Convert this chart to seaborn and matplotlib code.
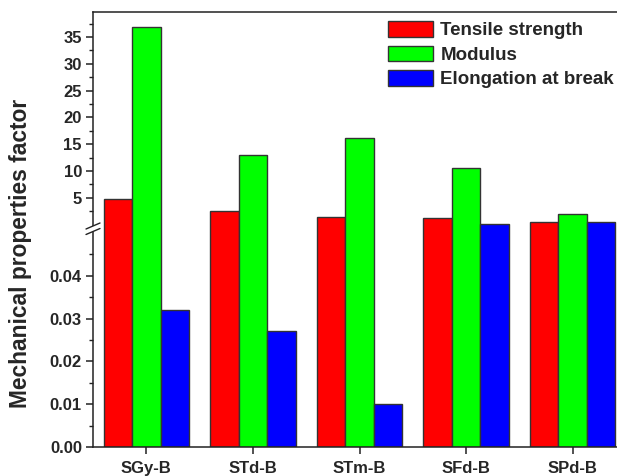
import numpy as np
import pandas as pd
import matplotlib
matplotlib.use("Agg")
import matplotlib.pyplot as plt
import seaborn as sns
from matplotlib.ticker import FixedLocator, FixedFormatter, NullFormatter
from matplotlib.patches import Patch

samples = ["SGy-B", "STd-B", "STm-B", "SFd-B", "SPd-B"]
properties = ["Tensile strength", "Modulus", "Elongation at break"]
tensile = [4.7, 2.55, 1.45, 1.15, 0.52]
modulus = [36.9, 13.0, 16.1, 10.6, 2.0]
elongation = [0.032, 0.027, 0.010, 0.1, 0.4]
colors = ["#FF0000", "#00FF00", "#0000FF"]

low_ticks = [0.00, 0.01, 0.02, 0.03, 0.04]
low_labels = ["0.00", "0.01", "0.02", "0.03", "0.04"]
high_ticks = [5, 10, 15, 20, 25, 30, 35]
high_labels = ["5", "10", "15", "20", "25", "30", "35"]
minor_ticks = [0.005, 0.015, 0.025, 0.035, 0.045,
               2.5, 7.5, 12.5, 17.5, 22.5, 27.5, 32.5, 37.5]

df = pd.DataFrame({
    "sample": samples * 3,
    "property": np.repeat(properties, len(samples)),
    "value": tensile + modulus + elongation,
})

sns.set_style("ticks")
plt.rcParams["font.family"] = ["Liberation Sans", "DejaVu Sans"]
plt.rcParams["font.weight"] = "bold"

# broken axis: lower 0..0.05, upper 0.05..~39.7
BREAK = 0.05
LOW_SLOPE = 4280.0
UP_OFF = 222.5
UP_SLOPE = 5.357


def fwd(v):
    v = np.asarray(v, dtype=float)
    return np.where(v <= BREAK, v * LOW_SLOPE, UP_OFF + v * UP_SLOPE)


def inv(y):
    y = np.asarray(y, dtype=float)
    lowtop = BREAK * LOW_SLOPE
    uptop = UP_OFF + BREAK * UP_SLOPE
    return np.where(y <= lowtop, y / LOW_SLOPE,
                    np.where(y < uptop, BREAK, (y - UP_OFF) / UP_SLOPE))


W, H = 617, 476
fig = plt.figure(figsize=(W / 100, H / 100), dpi=100)
ax = fig.add_axes([93 / W, (H - 447) / H, 533 / W, 435 / H])

sns.barplot(data=df, x="sample", y="value", hue="property",
            palette=colors, edgecolor="#333333", linewidth=1.0,
            width=0.8, saturation=1, ax=ax, legend=False)

ax.set_yscale("function", functions=(fwd, inv))
ax.set_ylim(0, (435 - UP_OFF) / UP_SLOPE)
ax.set_xlim(-0.5, 4.5)

ax.yaxis.set_major_locator(FixedLocator(low_ticks + high_ticks))
ax.yaxis.set_major_formatter(FixedFormatter(low_labels + high_labels))
ax.yaxis.set_minor_locator(FixedLocator(minor_ticks))
ax.yaxis.set_minor_formatter(NullFormatter())

ax.tick_params(axis="y", which="major", length=5, width=1.1, direction="out",
               labelsize=12, pad=3, color="#222222")
ax.tick_params(axis="y", which="minor", length=3, width=1.0, direction="out",
               color="#222222")
ax.tick_params(axis="x", which="major", length=5, width=1.1, direction="out",
               labelsize=12, pad=5, color="#222222")
for lab in ax.get_xticklabels() + ax.get_yticklabels():
    lab.set_fontweight("bold")

ax.set_xlabel("")
ax.set_ylabel("Mechanical properties factor", fontsize=16.4, fontweight="bold")
ax.yaxis.set_label_coords(-0.114, (447 - 253) / 435)

for side in ["left", "top", "bottom", "right"]:
    ax.spines[side].set_linewidth(1.1)
    ax.spines[side].set_color("#222222")

# break marks on the left spine
bx = 7 / 533
by = 3 / 435
yc1 = (447 - 226) / 435
yc2 = (447 - 231.5) / 435
ax.add_patch(plt.Rectangle((-3 / 533, yc2), 6 / 533, yc1 - yc2,
                           transform=ax.transAxes, facecolor="white",
                           edgecolor="none", clip_on=False, zorder=5))
for yc in (yc1, yc2):
    ax.plot([-bx, bx], [yc - by, yc + by], transform=ax.transAxes,
            color="#222222", lw=1.0, clip_on=False, zorder=6)

handles = [Patch(facecolor=c, edgecolor="#333333", linewidth=1.0) for c in colors]
ax.legend(handles, properties, loc="upper left",
          bbox_to_anchor=(388 / W, 1 - 21 / H), bbox_transform=fig.transFigure,
          frameon=False, prop={"weight": "bold", "size": 13.5},
          handlelength=2.4, handleheight=0.9, handletextpad=0.4,
          labelspacing=0.34, borderpad=0, borderaxespad=0)

fig.savefig("out.png", dpi=100)
